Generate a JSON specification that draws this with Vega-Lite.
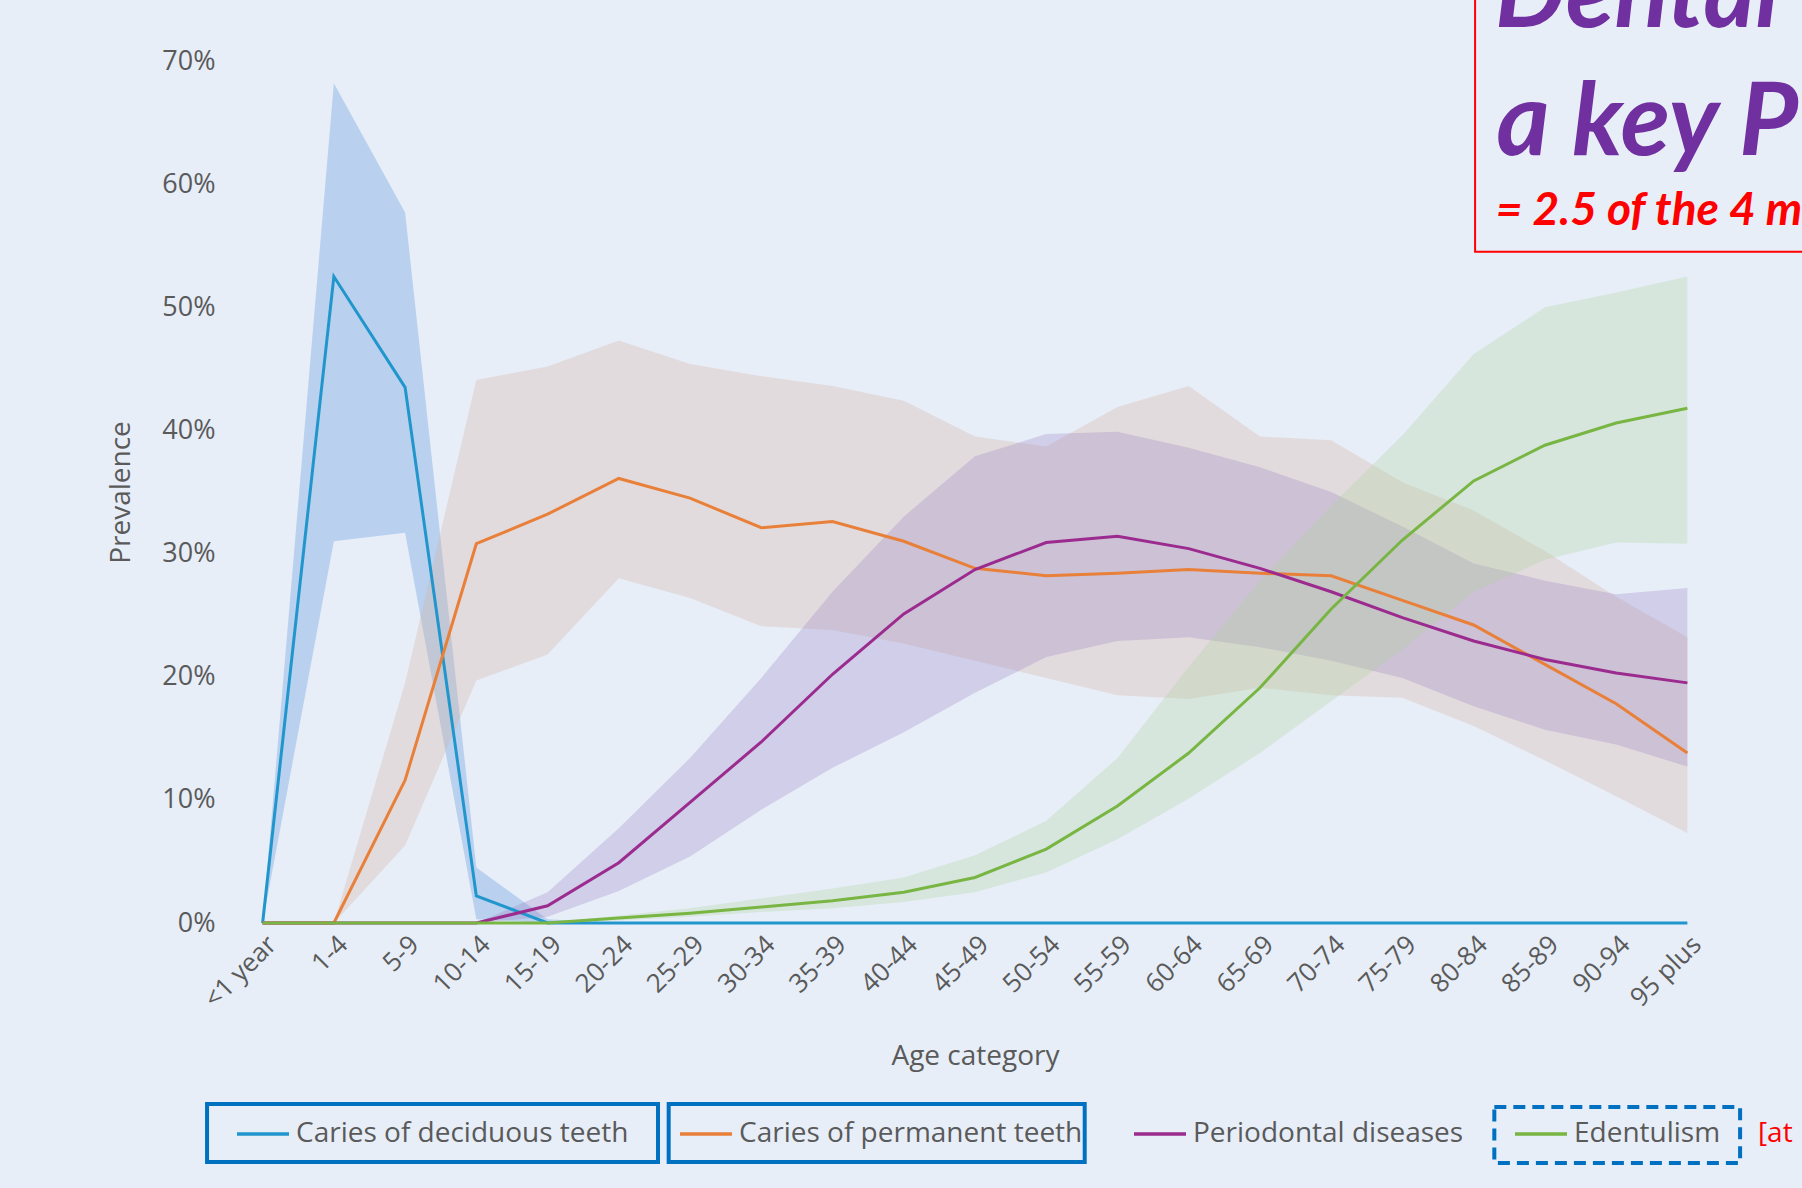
{
  "$schema": "https://vega.github.io/schema/vega-lite/v6.json",
  "width": 1496,
  "height": 862,
  "autosize": {"type": "none"},
  "padding": {"left": 227, "top": 61, "right": 79, "bottom": 265},
  "background": "#e7eef8",
  "config": {
    "view": {"stroke": null},
    "font": "Open Sans",
    "axis": {"domain": false, "ticks": false, "grid": false, "labelFont": "Open Sans", "labelFontSize": 26, "labelColor": "#5a5a5a", "titleFont": "Open Sans", "titleFontSize": 28, "titleFontWeight": "normal", "titleColor": "#5a5a5a"},
    "legend": {"labelFont": "Open Sans", "labelFontSize": 28, "labelColor": "#5a5a5a", "labelLimit": 600}
  },
  "datasets": {
    "prev": [
      {"age": "<1 year", "disease": "Caries of deciduous teeth", "val": 0, "lo": 0, "hi": 0},
      {"age": "1-4", "disease": "Caries of deciduous teeth", "val": 0.525, "lo": 0.31, "hi": 0.682},
      {"age": "5-9", "disease": "Caries of deciduous teeth", "val": 0.435, "lo": 0.317, "hi": 0.577},
      {"age": "10-14", "disease": "Caries of deciduous teeth", "val": 0.022, "lo": 0.003, "hi": 0.045},
      {"age": "15-19", "disease": "Caries of deciduous teeth", "val": 0, "lo": 0, "hi": 0.003},
      {"age": "20-24", "disease": "Caries of deciduous teeth", "val": 0, "lo": 0, "hi": 0},
      {"age": "25-29", "disease": "Caries of deciduous teeth", "val": 0, "lo": 0, "hi": 0},
      {"age": "30-34", "disease": "Caries of deciduous teeth", "val": 0, "lo": 0, "hi": 0},
      {"age": "35-39", "disease": "Caries of deciduous teeth", "val": 0, "lo": 0, "hi": 0},
      {"age": "40-44", "disease": "Caries of deciduous teeth", "val": 0, "lo": 0, "hi": 0},
      {"age": "45-49", "disease": "Caries of deciduous teeth", "val": 0, "lo": 0, "hi": 0},
      {"age": "50-54", "disease": "Caries of deciduous teeth", "val": 0, "lo": 0, "hi": 0},
      {"age": "55-59", "disease": "Caries of deciduous teeth", "val": 0, "lo": 0, "hi": 0},
      {"age": "60-64", "disease": "Caries of deciduous teeth", "val": 0, "lo": 0, "hi": 0},
      {"age": "65-69", "disease": "Caries of deciduous teeth", "val": 0, "lo": 0, "hi": 0},
      {"age": "70-74", "disease": "Caries of deciduous teeth", "val": 0, "lo": 0, "hi": 0},
      {"age": "75-79", "disease": "Caries of deciduous teeth", "val": 0, "lo": 0, "hi": 0},
      {"age": "80-84", "disease": "Caries of deciduous teeth", "val": 0, "lo": 0, "hi": 0},
      {"age": "85-89", "disease": "Caries of deciduous teeth", "val": 0, "lo": 0, "hi": 0},
      {"age": "90-94", "disease": "Caries of deciduous teeth", "val": 0, "lo": 0, "hi": 0},
      {"age": "95 plus", "disease": "Caries of deciduous teeth", "val": 0, "lo": 0, "hi": 0},

      {"age": "<1 year", "disease": "Caries of permanent teeth", "val": 0, "lo": 0, "hi": 0},
      {"age": "1-4", "disease": "Caries of permanent teeth", "val": 0, "lo": 0, "hi": 0},
      {"age": "5-9", "disease": "Caries of permanent teeth", "val": 0.116, "lo": 0.063, "hi": 0.195},
      {"age": "10-14", "disease": "Caries of permanent teeth", "val": 0.308, "lo": 0.197, "hi": 0.441},
      {"age": "15-19", "disease": "Caries of permanent teeth", "val": 0.332, "lo": 0.218, "hi": 0.452},
      {"age": "20-24", "disease": "Caries of permanent teeth", "val": 0.361, "lo": 0.28, "hi": 0.473},
      {"age": "25-29", "disease": "Caries of permanent teeth", "val": 0.345, "lo": 0.264, "hi": 0.454},
      {"age": "30-34", "disease": "Caries of permanent teeth", "val": 0.321, "lo": 0.241, "hi": 0.444},
      {"age": "35-39", "disease": "Caries of permanent teeth", "val": 0.326, "lo": 0.238, "hi": 0.436},
      {"age": "40-44", "disease": "Caries of permanent teeth", "val": 0.31, "lo": 0.227, "hi": 0.424},
      {"age": "45-49", "disease": "Caries of permanent teeth", "val": 0.288, "lo": 0.213, "hi": 0.395},
      {"age": "50-54", "disease": "Caries of permanent teeth", "val": 0.282, "lo": 0.199, "hi": 0.387},
      {"age": "55-59", "disease": "Caries of permanent teeth", "val": 0.284, "lo": 0.185, "hi": 0.419},
      {"age": "60-64", "disease": "Caries of permanent teeth", "val": 0.287, "lo": 0.182, "hi": 0.436},
      {"age": "65-69", "disease": "Caries of permanent teeth", "val": 0.284, "lo": 0.191, "hi": 0.395},
      {"age": "70-74", "disease": "Caries of permanent teeth", "val": 0.282, "lo": 0.185, "hi": 0.392},
      {"age": "75-79", "disease": "Caries of permanent teeth", "val": 0.262, "lo": 0.183, "hi": 0.358},
      {"age": "80-84", "disease": "Caries of permanent teeth", "val": 0.242, "lo": 0.16, "hi": 0.335},
      {"age": "85-89", "disease": "Caries of permanent teeth", "val": 0.21, "lo": 0.132, "hi": 0.302},
      {"age": "90-94", "disease": "Caries of permanent teeth", "val": 0.178, "lo": 0.103, "hi": 0.265},
      {"age": "95 plus", "disease": "Caries of permanent teeth", "val": 0.138, "lo": 0.073, "hi": 0.232},

      {"age": "<1 year", "disease": "Periodontal diseases", "val": 0, "lo": 0, "hi": 0},
      {"age": "1-4", "disease": "Periodontal diseases", "val": 0, "lo": 0, "hi": 0},
      {"age": "5-9", "disease": "Periodontal diseases", "val": 0, "lo": 0, "hi": 0},
      {"age": "10-14", "disease": "Periodontal diseases", "val": 0, "lo": 0, "hi": 0},
      {"age": "15-19", "disease": "Periodontal diseases", "val": 0.014, "lo": 0.005, "hi": 0.025},
      {"age": "20-24", "disease": "Periodontal diseases", "val": 0.049, "lo": 0.026, "hi": 0.077},
      {"age": "25-29", "disease": "Periodontal diseases", "val": 0.098, "lo": 0.054, "hi": 0.134},
      {"age": "30-34", "disease": "Periodontal diseases", "val": 0.147, "lo": 0.092, "hi": 0.199},
      {"age": "35-39", "disease": "Periodontal diseases", "val": 0.202, "lo": 0.126, "hi": 0.269},
      {"age": "40-44", "disease": "Periodontal diseases", "val": 0.251, "lo": 0.155, "hi": 0.33},
      {"age": "45-49", "disease": "Periodontal diseases", "val": 0.287, "lo": 0.187, "hi": 0.379},
      {"age": "50-54", "disease": "Periodontal diseases", "val": 0.309, "lo": 0.216, "hi": 0.397},
      {"age": "55-59", "disease": "Periodontal diseases", "val": 0.314, "lo": 0.229, "hi": 0.399},
      {"age": "60-64", "disease": "Periodontal diseases", "val": 0.304, "lo": 0.232, "hi": 0.386},
      {"age": "65-69", "disease": "Periodontal diseases", "val": 0.288, "lo": 0.224, "hi": 0.37},
      {"age": "70-74", "disease": "Periodontal diseases", "val": 0.269, "lo": 0.213, "hi": 0.35},
      {"age": "75-79", "disease": "Periodontal diseases", "val": 0.248, "lo": 0.199, "hi": 0.322},
      {"age": "80-84", "disease": "Periodontal diseases", "val": 0.229, "lo": 0.176, "hi": 0.292},
      {"age": "85-89", "disease": "Periodontal diseases", "val": 0.214, "lo": 0.157, "hi": 0.278},
      {"age": "90-94", "disease": "Periodontal diseases", "val": 0.203, "lo": 0.145, "hi": 0.267},
      {"age": "95 plus", "disease": "Periodontal diseases", "val": 0.195, "lo": 0.127, "hi": 0.272},

      {"age": "<1 year", "disease": "Edentulism", "val": 0, "lo": 0, "hi": 0},
      {"age": "1-4", "disease": "Edentulism", "val": 0, "lo": 0, "hi": 0},
      {"age": "5-9", "disease": "Edentulism", "val": 0, "lo": 0, "hi": 0},
      {"age": "10-14", "disease": "Edentulism", "val": 0, "lo": 0, "hi": 0},
      {"age": "15-19", "disease": "Edentulism", "val": 0, "lo": 0, "hi": 0},
      {"age": "20-24", "disease": "Edentulism", "val": 0.004, "lo": 0.002, "hi": 0.006},
      {"age": "25-29", "disease": "Edentulism", "val": 0.008, "lo": 0.005, "hi": 0.012},
      {"age": "30-34", "disease": "Edentulism", "val": 0.013, "lo": 0.009, "hi": 0.02},
      {"age": "35-39", "disease": "Edentulism", "val": 0.018, "lo": 0.012, "hi": 0.028},
      {"age": "40-44", "disease": "Edentulism", "val": 0.025, "lo": 0.017, "hi": 0.037},
      {"age": "45-49", "disease": "Edentulism", "val": 0.037, "lo": 0.025, "hi": 0.055},
      {"age": "50-54", "disease": "Edentulism", "val": 0.06, "lo": 0.041, "hi": 0.083},
      {"age": "55-59", "disease": "Edentulism", "val": 0.095, "lo": 0.068, "hi": 0.134},
      {"age": "60-64", "disease": "Edentulism", "val": 0.138, "lo": 0.101, "hi": 0.208},
      {"age": "65-69", "disease": "Edentulism", "val": 0.191, "lo": 0.138, "hi": 0.278},
      {"age": "70-74", "disease": "Edentulism", "val": 0.255, "lo": 0.18, "hi": 0.339},
      {"age": "75-79", "disease": "Edentulism", "val": 0.311, "lo": 0.222, "hi": 0.396},
      {"age": "80-84", "disease": "Edentulism", "val": 0.359, "lo": 0.269, "hi": 0.462},
      {"age": "85-89", "disease": "Edentulism", "val": 0.388, "lo": 0.295, "hi": 0.5},
      {"age": "90-94", "disease": "Edentulism", "val": 0.406, "lo": 0.309, "hi": 0.512},
      {"age": "95 plus", "disease": "Edentulism", "val": 0.418, "lo": 0.308, "hi": 0.525}
    ]
  },
  "layer": [
    {
      "data": {"name": "prev"},
      "encoding": {
        "x": {
          "field": "age", "type": "ordinal",
          "sort": ["<1 year","1-4","5-9","10-14","15-19","20-24","25-29","30-34","35-39","40-44","45-49","50-54","55-59","60-64","65-69","70-74","75-79","80-84","85-89","90-94","95 plus"],
          "scale": {"type": "point", "padding": 0.5},
          "axis": {"title": "Age category", "labelAngle": -45, "labelPadding": 8, "titlePadding": 30}
        }
      },
      "layer": [
        {
          "mark": {"type": "area", "fillOpacity": 0.3},
          "encoding": {
            "y": {"field": "lo", "type": "quantitative", "scale": {"domain": [0, 0.7], "nice": false}, "axis": {"title": "Prevalence", "format": ".0%", "values": [0, 0.1, 0.2, 0.3, 0.4, 0.5, 0.6, 0.7], "labelPadding": 12, "titlePadding": 26, "labelFontSize": 27}},
            "y2": {"field": "hi"},
            "fill": {
              "field": "disease", "type": "nominal", "legend": null,
              "scale": {"domain": ["Edentulism","Periodontal diseases","Caries of permanent teeth","Caries of deciduous teeth"], "range": ["#b0d4a0", "#9b86c4", "#d8b0a0", "#4f8fd6"]}
            }
          }
        },
        {
          "mark": {"type": "line", "strokeWidth": 3},
          "encoding": {
            "y": {"field": "val", "type": "quantitative"},
            "color": {
              "field": "disease", "type": "nominal",
              "scale": {"domain": ["Caries of deciduous teeth","Caries of permanent teeth","Periodontal diseases","Edentulism"], "range": ["#2196cc", "#e8803a", "#9b2b8e", "#78b543"]},
              "legend": {"orient": "none", "legendX": 8, "legendY": 1045, "direction": "horizontal", "title": null, "symbolType": "stroke", "symbolSize": 2704, "symbolStrokeWidth": 3.5, "columnPadding": 44, "labelOffset": 5, "padding": 0}
            }
          }
        }
      ]
    },
    {
      "data": {"values": [{}]},
      "layer": [
        {
          "mark": {"type": "rect", "fill": null, "stroke": "#0070c0", "strokeWidth": 4},
          "encoding": {
            "x": {"datum": -0.78, "type": "quantitative", "scale": {"domain": [-0.5, 20.5], "nice": false, "zero": false}, "axis": null},
            "x2": {"datum": 5.55},
            "y": {"datum": -0.147, "type": "quantitative", "scale": {"domain": [0, 0.7], "nice": false, "zero": false}, "axis": null},
            "y2": {"datum": -0.194}
          }
        },
        {
          "mark": {"type": "rect", "fill": null, "stroke": "#0070c0", "strokeWidth": 4},
          "encoding": {
            "x": {"datum": 5.7, "type": "quantitative"},
            "x2": {"datum": 11.54},
            "y": {"datum": -0.147, "type": "quantitative"},
            "y2": {"datum": -0.194}
          }
        },
        {
          "mark": {"type": "rect", "fill": null, "stroke": "#0070c0", "strokeWidth": 4, "strokeDash": [12, 7]},
          "encoding": {
            "x": {"datum": 17.29, "type": "quantitative"},
            "x2": {"datum": 20.74},
            "y": {"datum": -0.1494, "type": "quantitative"},
            "y2": {"datum": -0.1949}
          }
        },
        {
          "mark": {"type": "text", "text": "[at", "color": "#ff0000", "fontSize": 28, "font": "Open Sans", "align": "left", "baseline": "middle"},
          "encoding": {
            "x": {"datum": 20.99, "type": "quantitative"},
            "y": {"datum": -0.171, "type": "quantitative"}
          }
        },
        {
          "mark": {"type": "rect", "fill": null, "stroke": "#ff0000", "strokeWidth": 2},
          "encoding": {
            "x": {"datum": 17.02, "type": "quantitative"},
            "x2": {"datum": 23},
            "y": {"datum": 0.545, "type": "quantitative"},
            "y2": {"datum": 0.85}
          }
        },
        {
          "mark": {"type": "text", "text": "Dental", "color": "#7030a0", "fontSize": 100, "font": "Lato", "fontStyle": "italic", "fontWeight": "bold", "align": "left", "baseline": "alphabetic"},
          "encoding": {
            "x": {"datum": 17.3, "type": "quantitative"},
            "y": {"datum": 0.7276, "type": "quantitative"}
          }
        },
        {
          "mark": {"type": "text", "text": "a key P", "color": "#7030a0", "fontSize": 102, "font": "Lato", "fontStyle": "italic", "fontWeight": "bold", "align": "left", "baseline": "alphabetic", "letterSpacing": 3},
          "encoding": {
            "x": {"datum": 17.32, "type": "quantitative"},
            "y": {"datum": 0.6237, "type": "quantitative"}
          }
        },
        {
          "mark": {"type": "text", "text": "= 2.5 of the 4 m", "color": "#ff0000", "fontSize": 46, "font": "Lato", "fontStyle": "italic", "fontWeight": "bold", "align": "left", "baseline": "alphabetic"},
          "encoding": {
            "x": {"datum": 17.31, "type": "quantitative"},
            "y": {"datum": 0.5668, "type": "quantitative"}
          }
        }
      ]
    }
  ],
  "resolve": {"scale": {"x": "independent", "y": "independent"}, "axis": {"x": "independent", "y": "independent"}}
}
